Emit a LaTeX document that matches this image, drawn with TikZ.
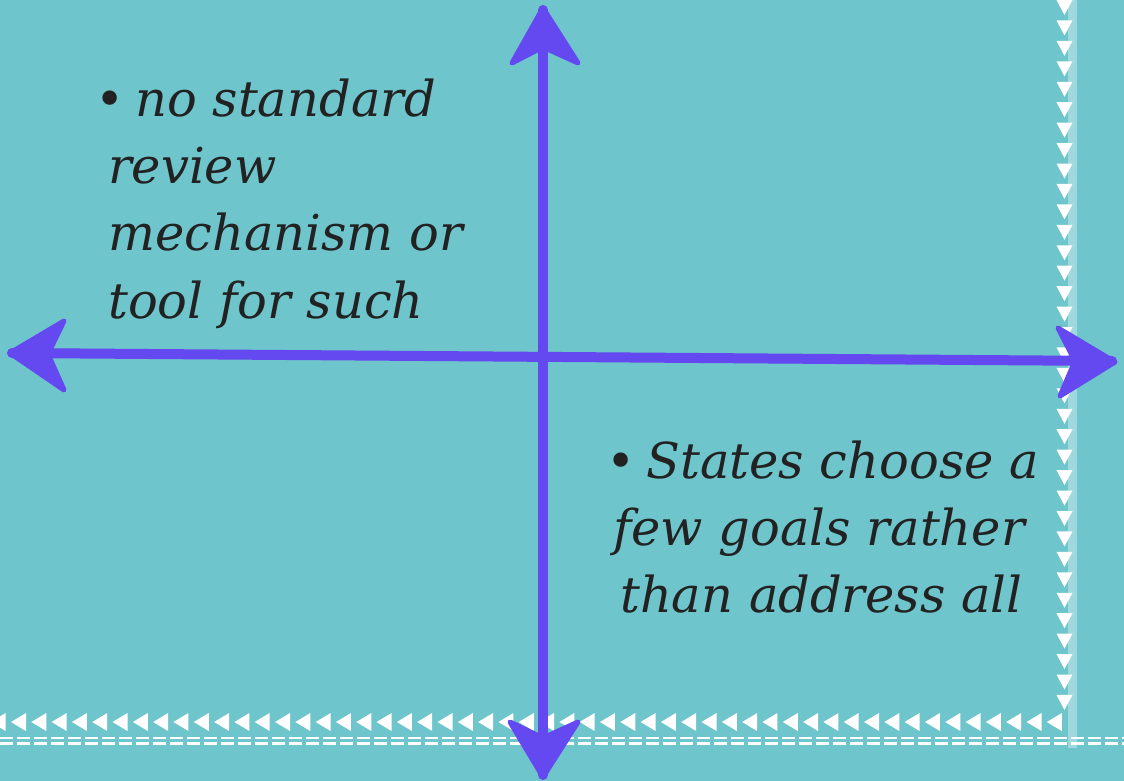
\documentclass[tikz,border=0pt]{standalone}
\usepackage{fontspec}
\setmainfont{DejaVu Serif}
\definecolor{bg}{RGB}{110,197,204}
\definecolor{chalk}{RGB}{100,72,240}
\definecolor{ink}{RGB}{34,34,34}
\begin{document}
\begin{tikzpicture}[x=1pt,y=-1pt,
 axis/.style={draw=chalk, line width=10pt, line cap=round},
 head/.style={fill=chalk, draw=chalk, line width=5pt, line join=round},
 tri/.style={fill=white},
 stitch/.style={draw=white, line width=2.2pt, dash pattern=on 13pt off 4pt},
 txt/.style={font=\fontsize{49.5}{67}\selectfont\itshape, text=ink, anchor=base west, inner sep=0pt}]
\fill[bg] (0,0) rectangle (1124,781);
\useasboundingbox (0,0) rectangle (1124,781);
% faint vertical strip
\fill[white, opacity=0.35] (1068,0) rectangle (1077,748);
% right column of triangles
\foreach \i in {0,...,34} {
  \pgfmathsetmacro\yy{\i*20.44}
  \fill[tri] (1056.5,\yy) -- (1072.5,\yy) -- (1064.5,\yy+15) -- cycle;
}
% bottom row of triangles
\foreach \i in {-1,...,51} {
  \pgfmathsetmacro\xx{11+\i*20.31}
  \fill[tri] (\xx,722) -- (\xx+15,713) -- (\xx+15,731) -- cycle;
}
% stitched double line
\draw[stitch] (0,738) -- (1124,738);
\draw[stitch] (0,743.5) -- (1124,743.5);
% axes
\coordinate (top) at (543,10);
\coordinate (bot) at (543,775);
\coordinate (lft) at (12,353);
\coordinate (rgt) at (1112,361);
\draw[axis] (top) -- (bot);
\draw[axis] (lft) -- (rgt);
\filldraw[head] (543,8) -- (512,63) -- (543,47) -- (578,63) -- cycle;
\filldraw[head] (543,777) -- (510,722) -- (543,738) -- (578,722) -- cycle;
\filldraw[head] (10,353) -- (64,321) -- (48,354) -- (64,390) -- cycle;
\filldraw[head] (1115,362) -- (1058,328) -- (1075,361) -- (1060,396) -- cycle;
% texts
\node[txt] (t1) at (95,117) {•\hspace{0.22em}no standard};
\node[txt] (t2) at (108,183) {review};
\node[txt] (t3) at (108,250) {mechanism or};
\node[txt] (t4) at (108,318) {tool for such};
\node[txt] (b1) at (606,478) {•\hspace{0.22em}States choose a};
\node[txt] (b2) at (613,545) {few goals rather};
\node[txt] (b3) at (620,612) {than address all};
\end{tikzpicture}
\end{document}
